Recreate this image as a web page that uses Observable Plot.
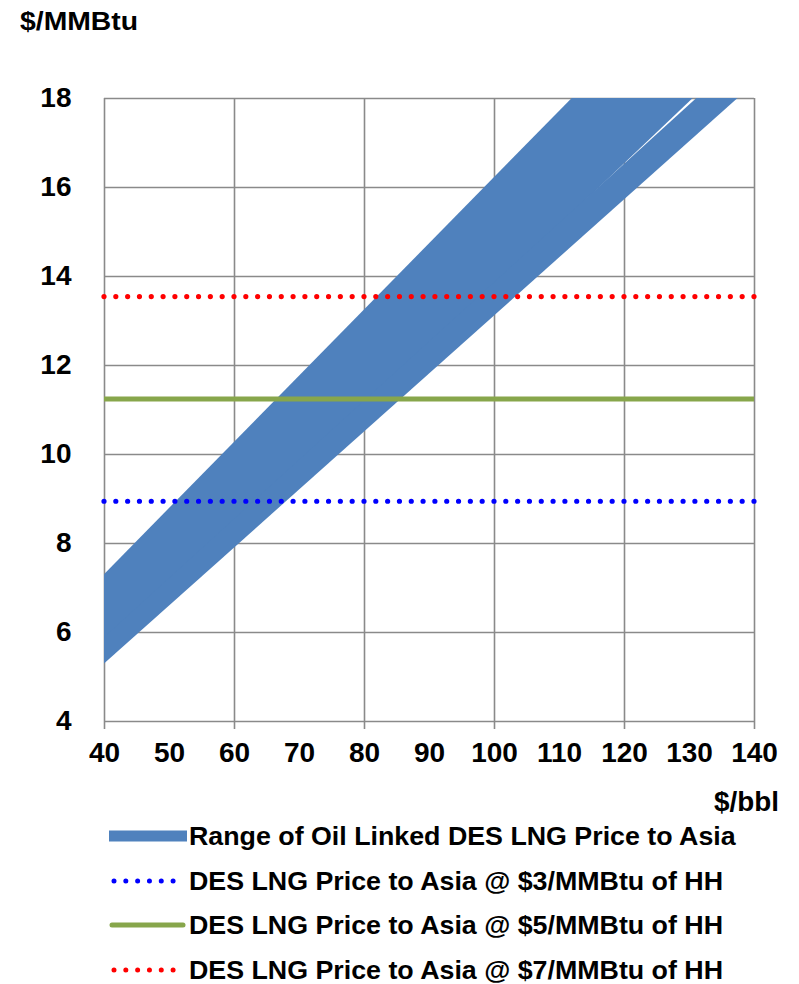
<!DOCTYPE html>
<html>
<head>
<meta charset="utf-8">
<script src="https://cdn.jsdelivr.net/npm/d3@7"></script>
<script src="https://cdn.jsdelivr.net/npm/@observablehq/plot@0.6"></script>
<style>
  html, body { margin: 0; padding: 0; background: #fff; }
  #wrap { position: relative; width: 799px; height: 984px; font-family: "Liberation Sans", Arial, sans-serif; font-weight: bold; color: #000; }
  .lbl { position: absolute; font-size: 26px; white-space: nowrap; line-height: 1; transform-origin: 0 50%; }
  .leg { position: absolute; left: 0; width: 799px; height: 40px; }
  .leg svg { position: absolute; left: 0; top: 0; }
  .leg span { position: absolute; left: 189px; top: 7px; font-size: 26px; white-space: nowrap; line-height: 1; transform: scaleX(1.03); transform-origin: 0 50%; }
</style>
</head>
<body>
<div id="wrap"></div>
<script>
// ---- data ----
const oilPrice = [40, 140];               // $/bbl
const band1Low = [5.41, 19.31];           // $/MMBtu
const band1High = [7.30, 22.17];
const band2Low = [5.29, 18.33];
const band2High = [5.88, 19.18];
const hhPrice = [3, 5, 7];                // $/MMBtu of HH
const desPrice = [8.95, 11.25, 13.55];    // DES LNG price to Asia
const yTicks = [4, 6, 8, 10, 12, 14, 16, 18];
const xLabels = [40, 50, 60, 70, 80, 90, 100, 110, 120, 130, 140];
const xGrid = [40, 60, 80, 100, 120, 140];
const legendLabels = [
  "Range of Oil Linked DES LNG Price to Asia",
  "DES LNG Price to Asia @ $3/MMBtu of HH",
  "DES LNG Price to Asia @ $5/MMBtu of HH",
  "DES LNG Price to Asia @ $7/MMBtu of HH"
];

const bands = [
  ...oilPrice.map((x, i) => ({band: "A", oil: x, lo: band1Low[i], hi: band1High[i]})),
  ...oilPrice.map((x, i) => ({band: "B", oil: x, lo: band2Low[i], hi: band2High[i]}))
];
const hhLines = hhPrice.map((h, i) => ({hh: h, price: desPrice[i]}));

const grid = "#8a8a8a";
const bandColor = "#4f81bd";
const lineColors = {3: "#0000ff", 5: "#87a64b", 7: "#ff0000"};

const chart = Plot.plot({
  width: 799,
  height: 800,
  marginLeft: 104,
  marginRight: 45,
  marginTop: 98,
  marginBottom: 79,
  style: {fontFamily: "'Liberation Sans', Arial, sans-serif", fontSize: "28px", fontWeight: "bold", color: "#000", background: "#fff", overflow: "visible"},
  x: {domain: [40, 140]},
  y: {domain: [4, 18]},
  marks: [
    Plot.ruleY(yTicks, {stroke: grid, strokeWidth: 1.6}),
    Plot.ruleX(xGrid, {stroke: grid, strokeWidth: 1.6}),
    Plot.axisX({ticks: xGrid, tickSize: 8, tickFormat: () => "", label: null, stroke: grid, strokeWidth: 1.6, strokeOpacity: 1}),
    Plot.axisX({ticks: xLabels, tickSize: 0, tickPadding: 21, label: null, fontSize: 28, fontWeight: "bold"}),
    Plot.axisY({ticks: yTicks, tickSize: 0, tickPadding: 33, label: null, fontSize: 28, fontWeight: "bold"}),
    Plot.areaY(bands, {x: "oil", y1: "lo", y2: "hi", z: "band", fill: bandColor, clip: true}),
    Plot.ruleY(hhLines.filter(d => d.hh === 5), {y: "price", x1: 40, x2: 140, stroke: d => lineColors[d.hh], strokeWidth: 5}),
    Plot.ruleY(hhLines.filter(d => d.hh !== 5), {y: "price", x1: 40, x2: 140, stroke: d => lineColors[d.hh], strokeWidth: 5.2, strokeDasharray: "0,11.818", strokeLinecap: "round"})
  ]
});

const wrap = document.getElementById("wrap");
chart.style.position = "absolute";
chart.style.left = "0px";
chart.style.top = "0px";
wrap.appendChild(chart);

function addLabel(text, css) {
  const d = document.createElement("div");
  d.className = "lbl";
  d.textContent = text;
  Object.assign(d.style, css);
  wrap.appendChild(d);
  return d;
}
addLabel("$/MMBtu", {left: "20px", top: "8px", transform: "scaleX(1.09)"});
addLabel("$/bbl", {left: "714px", top: "789px", fontSize: "27px", transform: "scaleX(1.03)"});

// legend
const rowCenters = [836, 880.5, 925, 969.5];
const ns = "http://www.w3.org/2000/svg";
legendLabels.forEach((label, i) => {
  const row = document.createElement("div");
  row.className = "leg";
  row.style.top = (rowCenters[i] - 20) + "px";
  const svg = document.createElementNS(ns, "svg");
  svg.setAttribute("width", "200");
  svg.setAttribute("height", "40");
  let el;
  if (i === 0) {
    el = document.createElementNS(ns, "rect");
    el.setAttribute("x", 109); el.setAttribute("y", 14.5);
    el.setAttribute("width", 78); el.setAttribute("height", 11);
    el.setAttribute("fill", bandColor);
  } else {
    el = document.createElementNS(ns, "line");
    const h = hhPrice[i - 1];
    el.setAttribute("y1", 20); el.setAttribute("y2", 20);
    el.setAttribute("stroke", lineColors[h]);
    el.setAttribute("stroke-width", 5);
    el.setAttribute("stroke-linecap", "round");
    if (h === 5) {
      el.setAttribute("x1", 112); el.setAttribute("x2", 183);
    } else {
      el.setAttribute("x1", 114); el.setAttribute("x2", 173.1);
      el.setAttribute("stroke-dasharray", "0,11.818");
    }
  }
  svg.appendChild(el);
  row.appendChild(svg);
  const span = document.createElement("span");
  span.textContent = label;
  row.appendChild(span);
  wrap.appendChild(row);
});
</script>
</body>
</html>
